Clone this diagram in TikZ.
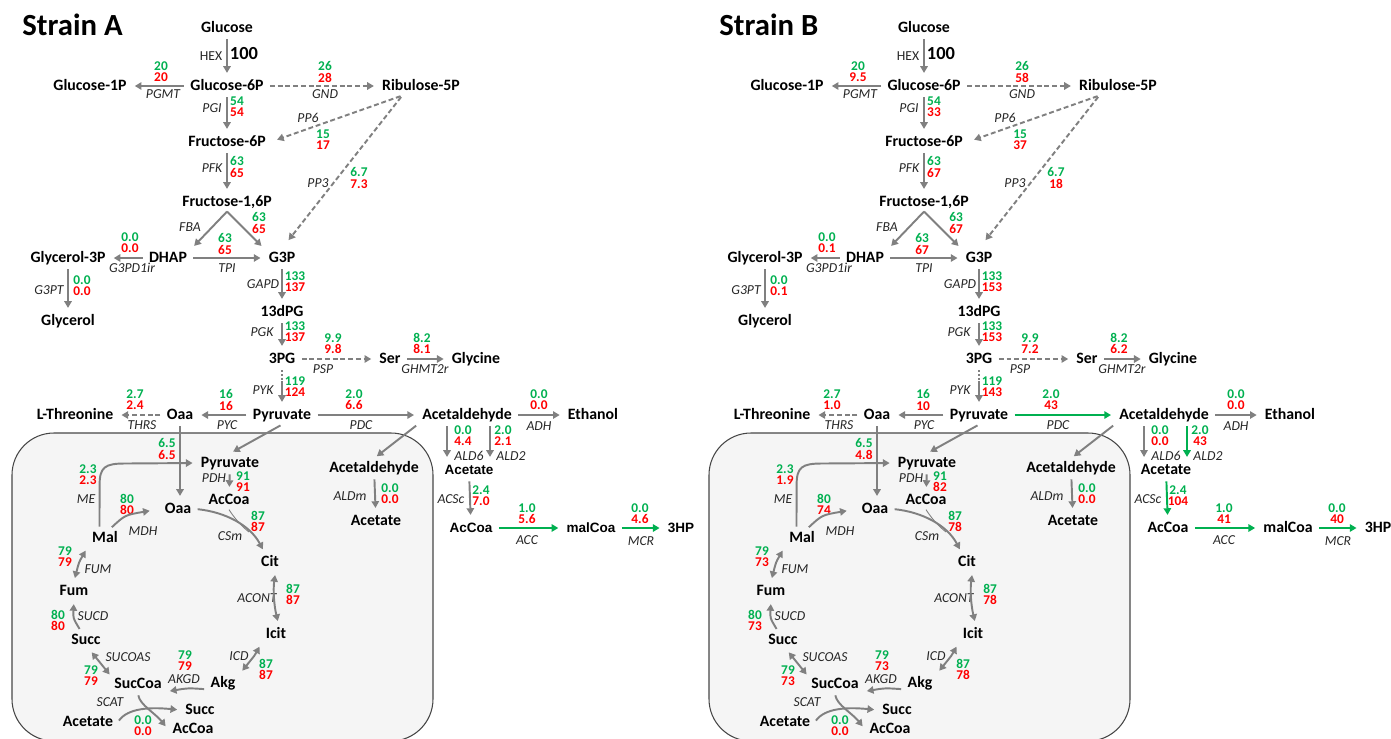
\documentclass[tikz,border=0pt]{standalone}
\usepackage{fontspec}
\setmainfont{Carlito}
\newfontfamily\arialfont{Liberation Sans}
\usepackage{tikz}
\usetikzlibrary{arrows.meta}
\definecolor{fluxgreen}{RGB}{0,176,80}
\definecolor{fluxred}{RGB}{255,0,0}
\definecolor{arrowgray}{RGB}{128,128,128}
\definecolor{mitofill}{RGB}{245,245,245}
\definecolor{mitoline}{RGB}{70,70,70}
\tikzset{
    met/.style = {font=\fontsize{9pt}{10pt}\selectfont\bfseries, inner xsep=2.5pt, inner ysep=2pt, text height=6pt, text depth=0.5pt},
    enz/.style = {font=\fontsize{7.8pt}{8pt}\selectfont\itshape, text=black!85, inner sep=0pt},
    flux/.style = {font=\fontsize{7.6pt}{6.3pt}\selectfont\bfseries, align=center, inner sep=0pt},
    flow/.style = {draw=arrowgray, line width=1.1pt, shorten <=1pt, shorten >=2pt, -{Triangle[length=3.8pt,width=4.2pt]}},
    dflow/.style = {flow, dash pattern=on 2.8pt off 1.6pt},
    rflow/.style = {flow, shorten <=2pt, {Triangle[length=3.8pt,width=4.2pt]}-{Triangle[length=3.8pt,width=4.2pt]}},
    gflow/.style = {flow, draw=fluxgreen},
    pykflow/.style = {flow, dash pattern=on 1.2pt off 0.9pt on 1.2pt off 0.9pt on 1.2pt off 0.9pt on 40pt off 1pt},
    mito/.style = {fill=mitofill, draw=mitoline, line width=0.6pt, rounded corners=0.84cm},
    strain-title/.style = {font=\fontsize{17.5pt}{20pt}\selectfont\bfseries, anchor=west, inner sep=0pt},
}
\newcommand{\setflx}[3]{\expandafter\def\csname flg#1\endcsname{#2}\expandafter\def\csname flr#1\endcsname{#3}}
\newcommand{\flx}[1]{\textcolor{fluxgreen}{\csname flg#1\endcsname}\\\textcolor{fluxred}{\csname flr#1\endcsname}}
\newcommand{\drawpanel}[1]{
\draw[mito] (12,433) rectangle (433,741);
\node[strain-title] (title) at (22,25) {Strain #1};
%
\node[met] (glc) at (227,28) {Glucose};
\node[met] (g6p) at (227,86) {Glucose-6P};
\node[met] (g1p) at (90,86) {Glucose-1P};
\node[met] (ru5p) at (421,86) {Ribulose-5P};
\node[met] (f6p) at (227,142) {Fructose-6P};
\node[met] (fdp) at (227,202) {Fructose-1,6P};
\node[met] (dhap) at (168,258) {DHAP};
\node[met] (glyc3p) at (68,258) {Glycerol-3P};
\node[met] (g3p) at (282,258) {G3P};
\node[met] (glyc) at (68,321) {Glycerol};
\node[met] (dpg) at (282,312) {13dPG};
\node[met] (pg3) at (282,359) {3PG};
\node[met] (ser) at (390,359) {Ser};
\node[met] (gly) at (476,359) {Glycine};
\node[met] (pyr) at (282,415) {Pyruvate};
\node[met] (oaa) at (180,415) {Oaa};
\node[met] (thr) at (75,415) {L-Threonine};
\node[met] (ald) at (467,415) {Acetaldehyde};
\node[met] (etoh) at (593,415) {Ethanol};
\node[prod] (ac) at (469,470) {Acetate};
\node[prod] (accoa) at (471,528) {AcCoa};
\node[prod] (malcoa) at (591,528) {malCoa};
\node[prod] (hp) at (681,528) {3HP};
%
\node[met] (mpyr) at (230,463) {Pyruvate};
\node[met] (mald) at (374,468) {Acetaldehyde};
\node[met] (mac) at (376,521) {Acetate};
\node[met] (moaa) at (178,509) {Oaa};
\node[met] (maccoa) at (229,500) {AcCoa};
\node[met] (mal) at (105,538) {Mal};
\node[met] (cit) at (270,562) {Cit};
\node[met] (icit) at (276,634) {Icit};
\node[met] (akg) at (223,683) {Akg};
\node[met] (succoa) at (138,684) {SucCoa};
\node[met] (succ) at (86,640) {Succ};
\node[met] (fum) at (74,591) {Fum};
\node[met] (sacet) at (88,722) {Acetate};
\node[met] (ssucc) at (200,710) {Succ};
\node[met] (saccoa) at (193,729) {AcCoa};
%
\node[enz, font=\fontsize{7.8pt}{8pt}\selectfont] (eHEX) at (211,56) {HEX};
\node[font=\fontsize{10.5pt}{11pt}\selectfont\bfseries, inner sep=0pt] (vHEX) at (244,54) {100};
\node[enz] (ePGMT) at (163,94) {PGMT};
\node[enz] (eGND) at (325,94) {GND};
\node[enz] (ePGI) at (212,108) {PGI};
\node[enz] (ePP6) at (308,118) {PP6};
\node[enz] (ePFK) at (212,168) {PFK};
\node[enz] (ePP3) at (318,183) {PP3};
\node[enz] (eFBA) at (190,227) {FBA};
\node[enz] (eTPI) at (227,268) {TPI};
\node[enz] (eG3PD) at (132,268) {G3PD1ir};
\node[enz] (eG3PT) at (49,290) {G3PT};
\node[enz] (eGAPD) at (263,284) {GAPD};
\node[enz] (ePGK) at (262,332) {PGK};
\node[enz] (ePSP) at (323,369) {PSP};
\node[enz] (eGHMT) at (425,369) {GHMT2r};
\node[enz] (ePYK) at (263,390) {PYK};
\node[enz] (eTHRS) at (142,425) {THRS};
\node[enz] (ePYC) at (227,425) {PYC};
\node[enz] (ePDC) at (361,425) {PDC};
\node[enz] (eADH) at (539,426) {ADH};
\node[enz] (eALD6) at (469,456) {ALD6};
\node[enz] (eALD2) at (511,456) {ALD2};
\node[enz] (eACSc) at (451,499) {ACSc};
\node[enz] (eACC) at (527,540) {ACC};
\node[enz] (eMCR) at (641,541) {MCR};
\node[enz] (ePDH) at (214,478) {PDH};
\node[enz] (eALDm) at (350,496) {ALDm};
\node[enz] (eME) at (86,499) {ME};
\node[enz] (eMDH) at (143,531) {MDH};
\node[enz] (eCSm) at (230,536) {CSm};
\node[enz] (eFUM) at (98,569) {FUM};
\node[enz] (eACONT) at (257,598) {ACONT};
\node[enz] (eSUCD) at (93,616) {SUCD};
\node[enz] (eICD) at (239,656) {ICD};
\node[enz] (eSUCOAS) at (128,657) {SUCOAS};
\node[enz] (eAKGD) at (184,679) {AKGD};
\node[enz] (eSCAT) at (110,702) {SCAT};
%
\node[flux] (fPGMT) at (161,72) {\flx{PGMT}};
\node[flux] (fGND) at (325,72) {\flx{GND}};
\node[flux] (fPGI) at (237,107) {\flx{PGI}};
\node[flux] (fPP6) at (323,140) {\flx{PP6}};
\node[flux] (fPFK) at (237,167) {\flx{PFK}};
\node[flux] (fPP3) at (359,178) {\flx{PP3}};
\node[flux] (fFBA) at (259,223) {\flx{FBA}};
\node[flux] (fTPI) at (225,244) {\flx{TPI}};
\node[flux] (fG3PD) at (130,243) {\flx{G3PD}};
\node[flux] (fG3PT) at (82,286) {\flx{G3PT}};
\node[flux] (fGAPD) at (295,282) {\flx{GAPD}};
\node[flux] (fPGK) at (295,332) {\flx{PGK}};
\node[flux] (fPSP) at (333,344) {\flx{PSP}};
\node[flux] (fGHMT) at (422,343) {\flx{GHMT}};
\node[flux] (fPYK) at (295,387) {\flx{PYK}};
\node[flux] (fTHRS) at (135,400) {\flx{THRS}};
\node[flux] (fPYC) at (226,400) {\flx{PYC}};
\node[flux] (fPDC) at (354,400) {\flx{PDC}};
\node[flux] (fADH) at (539,400) {\flx{ADH}};
\node[flux] (fALD6) at (463,436) {\flx{ALD6}};
\node[flux] (fALD2) at (503,436) {\flx{ALD2}};
\node[flux] (fACSc) at (481,496) {\flx{ACSc}};
\node[flux] (fACC) at (527,514) {\flx{ACC}};
\node[flux] (fMCR) at (640,514) {\flx{MCR}};
\node[flux] (fOAAT) at (167,449) {\flx{OAAT}};
\node[flux] (fPDH) at (243,482) {\flx{PDH}};
\node[flux] (fALDm) at (390,494) {\flx{ALDm}};
\node[flux] (fME) at (88,475) {\flx{ME}};
\node[flux] (fMDH) at (127,504) {\flx{MDH}};
\node[flux] (fCSm) at (258,521) {\flx{CSm}};
\node[flux] (fFUM) at (65,557) {\flx{FUM}};
\node[flux] (fACONT) at (293,594) {\flx{ACONT}};
\node[flux] (fSUCD) at (58,620) {\flx{SUCD}};
\node[flux] (fICD) at (266,669) {\flx{ICD}};
\node[flux] (fSUCOAS) at (91,676) {\flx{SUCOAS}};
\node[flux] (fAKGD) at (185,661) {\flx{AKGD}};
\node[flux] (fSCAT) at (143,726) {\flx{SCAT}};
%
\draw[flow] (glc) -- (g6p);
\draw[flow] (g6p) -- (g1p);
\draw[dflow] (g6p) -- (ru5p);
\draw[flow] (g6p) -- (f6p);
\draw[dflow, shorten >=4pt] (ru5p.207) -- (f6p.east);
\draw[dflow, shorten >=6pt] (ru5p.207) -- (g3p.north);
\draw[flow] (f6p) -- (fdp);
\draw[flow, shorten <=0pt] (fdp.south) -- (dhap.north east);
\draw[flow, shorten <=0pt] (fdp.south) -- (g3p.north west);
\draw[flow] (dhap) -- (g3p);
\draw[flow] (dhap) -- (glyc3p);
\draw[flow] (glyc3p) -- (glyc);
\draw[flow] (g3p) -- (dpg);
\draw[flow] (dpg) -- (pg3);
\draw[dflow] (pg3) -- (ser);
\draw[flow] (ser) -- (gly);
\draw[pykflow] (pg3) -- (pyr);
\draw[dflow] (oaa) -- (thr);
\draw[flow] (pyr) -- (oaa);
\draw[pdcarrow] (pyr) -- (ald);
\draw[flow] (ald) -- (etoh);
\draw[ald6arrow] ([xshift=-0.4cm]ald.south) -- ([xshift=-0.4cm]ald.south |- ac.north);
\draw[ald2arrow] ([xshift=0.46cm]ald.south) -- ([xshift=0.46cm]ald.south |- ac.north);
\draw[acscarrow] (ac) -- (accoa);
\draw[gflow] (accoa) -- (malcoa);
\draw[gflow] (malcoa) -- (hp);
%
\draw[flow] (pyr.south) -- (mpyr.north);
\draw[flow] (ald.south west) -- (mald.north);
\draw[flow] (oaa.south) -- (oaa.south |- moaa.north);
\draw[flow] (mpyr) -- (maccoa);
\draw[flow] (mald) -- (mac);
\draw[flow] (mal.120) -- (99.6,485) .. controls (99.6,467) and (105,463.5) .. (125,463.5) -- (mpyr.west);
\draw[flow, shorten >=6pt] (mal.60) .. controls (125,515) .. (moaa.west);
\draw[flow] (moaa.east) .. controls (225,512) and (250,525) .. (cit.120);
\coordinate (csmj) at (249,532);
\draw[draw=arrowgray, line width=0.5pt] (maccoa.south) .. controls (233,516) and (240,525) .. (csmj);
\draw[rflow] (cit.-60) .. controls (273,590) and (274,605) .. (icit.75);
\draw[rflow] (icit.south west) .. controls (255,655) .. (akg.north east);
\draw[flow] (akg.200) .. controls (188,688) .. (succoa.-15);
\draw[rflow, shorten >=0pt] (succ.-70) -- (succoa.north west);
\draw[flow] (succ.120) .. controls (73,618) .. (fum.south);
\draw[rflow] (fum.north) .. controls (79,562) .. (mal.south west);
\draw[flow] (succoa.south) .. controls (140,705) and (155,713) .. (saccoa.west);
\draw[flow] (sacet.east) .. controls (128,708) and (150,707) .. (ssucc.west);
}

\begin{document}
\begin{tikzpicture}[x=0.02cm, y=-0.02cm]
\useasboundingbox (0,0) rectangle (1391,738);
\clip (0,0) rectangle (1391,738);
\begin{scope}[name prefix=a-,
    pdcarrow/.style={flow}, ald2arrow/.style={flow}, acscarrow/.style={flow}, ald6arrow/.style={flow},
    prod/.style={met, font=\fontsize{7.7pt}{9pt}\selectfont\arialfont\bfseries}]
\setflx{PGMT}{20}{20}
\setflx{GND}{26}{28}
\setflx{PGI}{54}{54}
\setflx{PP6}{15}{17}
\setflx{PFK}{63}{65}
\setflx{PP3}{6.7}{7.3}
\setflx{FBA}{63}{65}
\setflx{TPI}{63}{65}
\setflx{G3PD}{0.0}{0.0}
\setflx{G3PT}{0.0}{0.0}
\setflx{GAPD}{133}{137}
\setflx{PGK}{133}{137}
\setflx{PSP}{9.9}{9.8}
\setflx{GHMT}{8.2}{8.1}
\setflx{PYK}{119}{124}
\setflx{THRS}{2.7}{2.4}
\setflx{PYC}{16}{16}
\setflx{PDC}{2.0}{6.6}
\setflx{ADH}{0.0}{0.0}
\setflx{ALD6}{0.0}{4.4}
\setflx{ALD2}{2.0}{2.1}
\setflx{ACSc}{2.4}{7.0}
\setflx{ACC}{1.0}{5.6}
\setflx{MCR}{0.0}{4.6}
\setflx{OAAT}{6.5}{6.5}
\setflx{PDH}{91}{91}
\setflx{ALDm}{0.0}{0.0}
\setflx{ME}{2.3}{2.3}
\setflx{MDH}{80}{80}
\setflx{CSm}{87}{87}
\setflx{FUM}{79}{79}
\setflx{ACONT}{87}{87}
\setflx{SUCD}{80}{80}
\setflx{ICD}{87}{87}
\setflx{SUCOAS}{79}{79}
\setflx{AKGD}{79}{79}
\setflx{SCAT}{0.0}{0.0}
\drawpanel{A}
\end{scope}
\begin{scope}[shift={(697,0)}, name prefix=b-,
    pdcarrow/.style={gflow}, ald2arrow/.style={gflow}, acscarrow/.style={gflow}, ald6arrow/.style={flow, line width=0.6pt},
    prod/.style={met}]
\setflx{PGMT}{20}{9.5}
\setflx{GND}{26}{58}
\setflx{PGI}{54}{33}
\setflx{PP6}{15}{37}
\setflx{PFK}{63}{67}
\setflx{PP3}{6.7}{18}
\setflx{FBA}{63}{67}
\setflx{TPI}{63}{67}
\setflx{G3PD}{0.0}{0.1}
\setflx{G3PT}{0.0}{0.1}
\setflx{GAPD}{133}{153}
\setflx{PGK}{133}{153}
\setflx{PSP}{9.9}{7.2}
\setflx{GHMT}{8.2}{6.2}
\setflx{PYK}{119}{143}
\setflx{THRS}{2.7}{1.0}
\setflx{PYC}{16}{10}
\setflx{PDC}{2.0}{43}
\setflx{ADH}{0.0}{0.0}
\setflx{ALD6}{0.0}{0.0}
\setflx{ALD2}{2.0}{43}
\setflx{ACSc}{2.4}{104}
\setflx{ACC}{1.0}{41}
\setflx{MCR}{0.0}{40}
\setflx{OAAT}{6.5}{4.8}
\setflx{PDH}{91}{82}
\setflx{ALDm}{0.0}{0.0}
\setflx{ME}{2.3}{1.9}
\setflx{MDH}{80}{74}
\setflx{CSm}{87}{78}
\setflx{FUM}{79}{73}
\setflx{ACONT}{87}{78}
\setflx{SUCD}{80}{73}
\setflx{ICD}{87}{78}
\setflx{SUCOAS}{79}{73}
\setflx{AKGD}{79}{73}
\setflx{SCAT}{0.0}{0.0}
\drawpanel{B}
\end{scope}
\end{tikzpicture}
\end{document}
